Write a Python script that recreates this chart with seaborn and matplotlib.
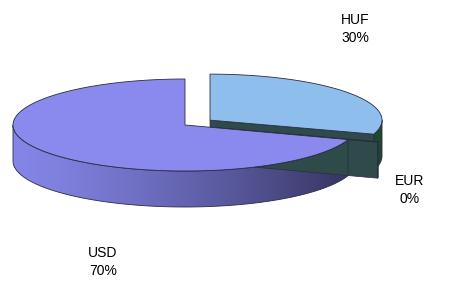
"""3D style pie of currency shares (HUF / EUR / USD)."""
import numpy as np
import matplotlib.pyplot as plt
from matplotlib.patches import Polygon
from matplotlib.colors import LinearSegmentedColormap
import seaborn as sns

# data
labels = ['HUF', 'EUR', 'USD']
values = [30.0, 0.2, 70.0]
explode = [0.18, 0.18, 0.0]
top_colors = ['#8DBEEC', '#2E4A49', '#8A8AEE']
cut_colors = ['#2E4A49', '#2E4A49', '#4A4A90']
side_colors = [('#1D4A2B', '#1D4A2B'), ('#1D4A2B', '#1D4A2B'), ('#8585E8', '#33335E')]

# layout (pixels)
cx, cy = 185, 125
a, b, depth = 172, 46, 36
label_xy = [(355, 29), (410, 190), (103, 262)]

sns.set_theme(style='white')
plt.rcParams['font.family'] = ['Liberation Sans Narrow', 'Liberation Sans', 'DejaVu Sans']

fig = plt.figure(figsize=(4.54, 2.82), dpi=100)
ax = fig.add_axes([0, 0, 1, 1])
ax.set_xlim(0, 454)
ax.set_ylim(282, 0)
ax.axis('off')

total = sum(values)
shares = [v / total for v in values]
starts = 90 - 360 * np.concatenate([[0], np.cumsum(shares)[:-1]])
ends = starts - 360 * np.array(shares)
mids = (starts + ends) / 2


def rim(x0, y0, th):
    th = np.radians(th)
    return x0 + a * np.cos(th), y0 - b * np.sin(th)


edge = '#2B2B44'
order = np.argsort(-np.sin(np.radians(mids)))
for i in order:
    t1, t2 = starts[i], ends[i]
    m = np.radians(mids[i])
    x0 = cx + explode[i] * a * np.cos(m)
    y0 = cy - explode[i] * b * np.sin(m)

    # cut faces facing the viewer
    for th, vis in [(t1, np.cos(np.radians(t1)) < 0), (t2, np.cos(np.radians(t2)) > 0)]:
        if not vis:
            continue
        rx, ry = rim(x0, y0, th)
        ax.add_patch(Polygon([(x0, y0), (rx, ry), (rx, ry + depth), (x0, y0 + depth)],
                             closed=True, fc=cut_colors[i], ec=edge, lw=0.5))

    # outer side, front half only, shaded left to right
    th = np.linspace(t2, t1, 600)
    front = np.sin(np.radians(th)) < 0
    if front.sum() > 1:
        xs, ys = rim(x0, y0, th[front])
        outline = np.concatenate([np.c_[xs, ys], np.c_[xs[::-1], ys[::-1] + depth]])
        side = Polygon(outline, closed=True, fc='none', ec='none')
        ax.add_patch(side)
        cmap = LinearSegmentedColormap.from_list('side', side_colors[i])
        grad = np.linspace(0, 1, 256)[None, :] ** 1.3
        im = ax.imshow(grad, cmap=cmap, aspect='auto', interpolation='bilinear',
                       extent=(x0 - a, x0 + a, ys.max() + depth + 1, ys.min() - 1),
                       zorder=side.get_zorder() - 0.1)
        im.set_clip_path(side)
        ax.add_patch(Polygon(outline, closed=True, fill=False, ec=edge, lw=0.6))

    # top face
    th = np.linspace(t1, t2, 400)
    xs, ys = rim(x0, y0, th)
    pts = np.concatenate([[(x0, y0)], np.c_[xs, ys]])
    ax.add_patch(Polygon(pts, closed=True, fc=top_colors[i], ec=edge, lw=0.6))

ax.set_xlim(0, 454)
ax.set_ylim(282, 0)

for lab, s, (lx, ly) in zip(labels, shares, label_xy):
    ax.text(lx, ly, f'{lab}\n{s * 100:.0f}%', ha='center', va='center',
            fontsize=10, linespacing=1.45, color='black')

fig.savefig('out.png', dpi=100)
